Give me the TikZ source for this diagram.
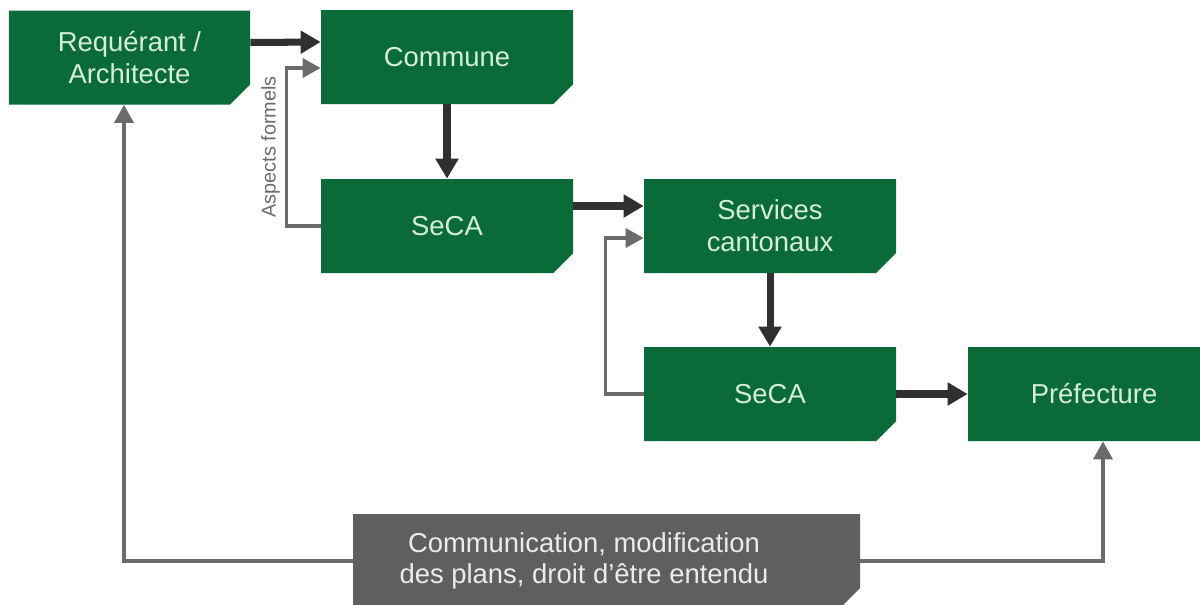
\documentclass[tikz,border=0pt]{standalone}
\usepackage{fontspec}
\setmainfont{Liberation Sans}
\usepackage{xcolor}
\usepackage{tikz}
\usetikzlibrary{shapes.misc,arrows.meta}

\definecolor{boxgreen}{HTML}{0B6B38}
\definecolor{boxtext}{HTML}{D4EFD6}
\definecolor{boxgrey}{HTML}{5F5F5F}
\definecolor{arrowdark}{HTML}{303030}
\definecolor{arrowgrey}{HTML}{6B6B6B}

\begin{document}
\begin{tikzpicture}[
    box/.style={chamfered rectangle,chamfered rectangle corners=south east,
        chamfered rectangle xsep=0.2cm,chamfered rectangle ysep=0.2cm,
        fill=boxgreen,text=boxtext,inner sep=0pt,minimum width=5.04cm,
        minimum height=1.88cm,align=center,font=\fontsize{15.6}{18}\selectfont},
    mainarrow/.style={draw=arrowdark,line width=4pt,-{Triangle[length=0.4cm,width=0.44cm]}},
    backarrow/.style={draw=arrowgrey,line width=2pt,-{Triangle[length=0.36cm,width=0.38cm]}}
]
    \useasboundingbox (0,0) rectangle (24,12.08);
    \node[box,minimum width=4.82cm] (req) at (2.59,10.93) {Requérant /\\Architecte};
    \node[box] (commune) at (8.94,10.94) {Commune};
    \node[box] (seca1) at (8.94,7.56) {SeCA};
    \node[box] (services) at (15.4,7.56) {Services\\cantonaux};
    \node[box] (seca2) at (15.4,4.2) {SeCA};
    \node[box] (pref) at (21.88,4.2) {Préfecture};
    \node[box,fill=boxgrey,text=white!92!black,minimum width=10.14cm] (comm) at (12.13,0.86)
        {\hspace*{-0.9cm}Communication, modification\\\hspace*{-0.9cm}des plans, droit d’être entendu};
    \draw[mainarrow] ([yshift=0.3cm]req.east) -- ([yshift=0.3cm]commune.west);
    \draw[mainarrow] (commune.south) -- (seca1.north);
    \draw[mainarrow] ([yshift=0.4cm]seca1.east) -- ([yshift=0.4cm]services.west);
    \draw[mainarrow] (services.south) -- (seca2.north);
    \draw[mainarrow] (seca2.east) -- (pref.west);
    \draw[backarrow] (seca1.west) -- ++(-0.68,0) |- node[pos=0.25,rotate=90,above,
        text=arrowgrey,font=\fontsize{11.3}{13}\selectfont,inner sep=3pt] (aspects) {Aspects formels}
        ([yshift=-0.22cm]commune.west);
    \draw[backarrow] (seca2.west) -- ++(-0.76,0) |- ([yshift=-0.24cm]services.west);
    \draw[backarrow] (comm.west) -| ([xshift=-0.11cm]req.south);
    \draw[backarrow] (comm.east) -| ([xshift=0.18cm]pref.south);
\end{tikzpicture}
\end{document}
